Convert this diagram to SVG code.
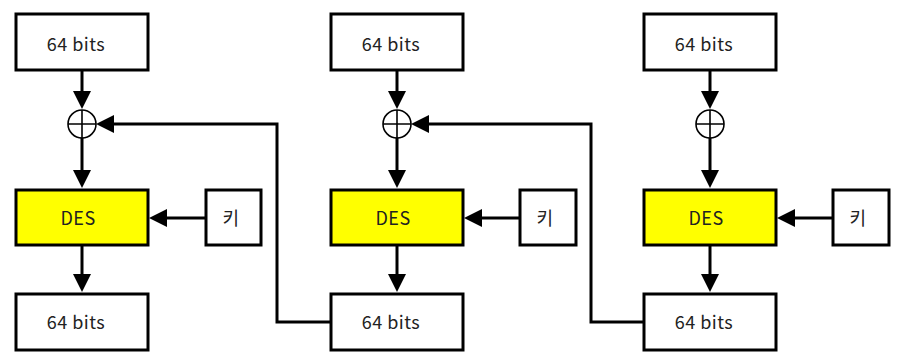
<svg xmlns="http://www.w3.org/2000/svg" width="904" height="361" viewBox="0 0 904 361">
<defs>
<style>
.box{fill:#ffffff;stroke:#000000;stroke-width:3}
.des{fill:#ffff00;stroke:#000000;stroke-width:3}
.t{font-family:"Noto Sans CJK KR","Liberation Sans",sans-serif;font-size:18px;letter-spacing:0.5px;fill:#222222;text-anchor:middle}
.xor{fill:#ffffff;stroke:#000000;stroke-width:1.6}
.c{fill:none;stroke:#000000;stroke-width:3}
</style>
<marker id="ah" markerUnits="userSpaceOnUse" markerWidth="18" markerHeight="18" viewBox="0 0 18 18" refX="10" refY="9" orient="auto">
<path d="M0,0 L18,9 L0,18 z" fill="#000000"/>
</marker>
</defs>
<g id="connectors">
<path class="c" d="M82,70 V101" marker-end="url(#ah)"/>
<path class="c" d="M82,138 V180" marker-end="url(#ah)"/>
<path class="c" d="M82,245 V284" marker-end="url(#ah)"/>
<path class="c" d="M206,218 H157" marker-end="url(#ah)"/>
<path class="c" d="M331,322 H277 V124 H104" marker-end="url(#ah)"/>
<path class="c" d="M397,70 V101" marker-end="url(#ah)"/>
<path class="c" d="M397,138 V180" marker-end="url(#ah)"/>
<path class="c" d="M397,245 V284" marker-end="url(#ah)"/>
<path class="c" d="M520,218 H472" marker-end="url(#ah)"/>
<path class="c" d="M644,322 H591 V124 H419" marker-end="url(#ah)"/>
<path class="c" d="M710,70 V101" marker-end="url(#ah)"/>
<path class="c" d="M710,138 V180" marker-end="url(#ah)"/>
<path class="c" d="M710,245 V284" marker-end="url(#ah)"/>
<path class="c" d="M833,218 H785" marker-end="url(#ah)"/>
</g>
<g id="in1"><rect class="box" x="16" y="14" width="132" height="56"/><text class="t" x="76" y="51">64 bits</text></g>
<g id="xor1"><circle class="xor" cx="82" cy="124" r="14"/><path class="xor" d="M68,124 H96 M82,110 V138"/></g>
<g id="des1"><rect class="des" x="16" y="190" width="132" height="55"/><text class="t" x="78" y="225">DES</text></g>
<g id="key1"><rect class="box" x="206" y="190" width="55" height="55"/><text class="t" x="231" y="225">키</text></g>
<g id="out1"><rect class="box" x="16" y="294" width="132" height="56"/><text class="t" x="76" y="329">64 bits</text></g>
<g id="in2"><rect class="box" x="331" y="14" width="132" height="56"/><text class="t" x="391" y="51">64 bits</text></g>
<g id="xor2"><circle class="xor" cx="397" cy="124" r="14"/><path class="xor" d="M383,124 H411 M397,110 V138"/></g>
<g id="des2"><rect class="des" x="331" y="190" width="132" height="55"/><text class="t" x="393" y="225">DES</text></g>
<g id="key2"><rect class="box" x="520" y="190" width="56" height="55"/><text class="t" x="545" y="225">키</text></g>
<g id="out2"><rect class="box" x="331" y="294" width="132" height="56"/><text class="t" x="391" y="329">64 bits</text></g>
<g id="in3"><rect class="box" x="644" y="14" width="132" height="56"/><text class="t" x="704" y="51">64 bits</text></g>
<g id="xor3"><circle class="xor" cx="710" cy="124" r="14"/><path class="xor" d="M696,124 H724 M710,110 V138"/></g>
<g id="des3"><rect class="des" x="644" y="190" width="132" height="55"/><text class="t" x="706" y="225">DES</text></g>
<g id="key3"><rect class="box" x="833" y="190" width="56" height="55"/><text class="t" x="858" y="225">키</text></g>
<g id="out3"><rect class="box" x="644" y="294" width="132" height="56"/><text class="t" x="704" y="329">64 bits</text></g>
</svg>
